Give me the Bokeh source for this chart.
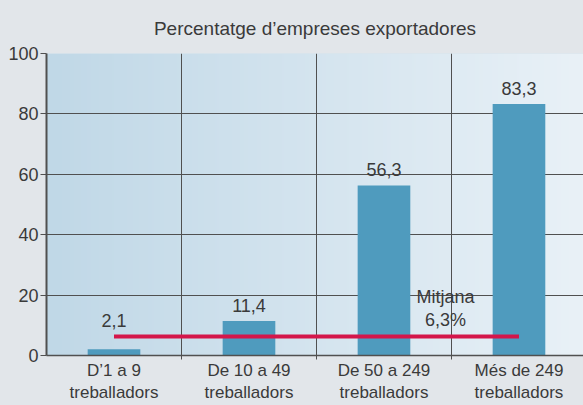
import numpy as np
from bokeh.plotting import figure
from bokeh.models import FixedTicker, Range1d, GlobalInlineStyleSheet
from bokeh.core.properties import value
from bokeh.embed import file_html
from bokeh.resources import INLINE

# ---- data ----
title_text = "Percentatge d’empreses exportadores"
categories = ["D’1 a 9\ntreballadors", "De 10 a 49\ntreballadors",
              "De 50 a 249\ntreballadors", "Més de 249\ntreballadors"]
values = [2.1, 11.4, 56.3, 83.3]
value_labels = ["2,1", "11,4", "56,3", "83,3"]
mean_value = 6.3
mean_label = "Mitjana\n6,3%"
y_ticks = [0, 20, 40, 60, 80, 100]

# ---- style ----
FONT = "Liberation Sans"
TXT = "#3a3a3a"
PAGE_BG = "#e2e6ea"
BAR = "#4f9bbe"
RED = "#d4164a"
GRID = "#505050"
X_END = 3.978

x = [i + 0.5 for i in range(len(categories))]
boundaries = [i for i in range(1, len(categories))]

p = figure(width=583, height=405, output_backend="svg", toolbar_location=None,
           x_range=Range1d(0, X_END), y_range=Range1d(0, 100),
           min_border_left=46, min_border_right=0, min_border_top=53,
           min_border_bottom=48)
p.stylesheets = [GlobalInlineStyleSheet(css=f"body {{ background: {PAGE_BG}; }}")]
p.background_fill_color = "#d3e3ee"
p.border_fill_color = PAGE_BG
p.outline_line_color = None

# gradient background of the plotting area
N = 256
img = np.empty((1, N), dtype=np.uint32)
view = img.view(dtype=np.uint8).reshape((1, N, 4))
left_c = np.array([192, 216, 231], dtype=float)
right_c = np.array([233, 241, 247], dtype=float)
t = np.linspace(0, 1, N)
for c in range(3):
    view[0, :, c] = (left_c[c] + (right_c[c] - left_c[c]) * t).astype(np.uint8)
view[0, :, 3] = 255
p.image_rgba(image=[img], x=0, y=0, dw=X_END, dh=100, level="image")

# bars
p.vbar(x=x, top=values, width=0.39, fill_color=BAR, line_color=None)

# mean line
p.segment(x0=[x[0]], x1=[x[-1]], y0=[mean_value], y1=[mean_value],
          line_color=RED, line_width=4)

# value labels
label_y = [max(v, mean_value) for v in values]
p.text(x=x, y=label_y, text=value_labels, text_align="center",
       text_baseline="bottom", y_offset=-9, text_font=value(FONT),
       text_font_size="18px", text_color=TXT)

# mean label
p.text(x=[boundaries[-1]], y=[mean_value], text=[mean_label], x_offset=-6,
       y_offset=-6, text_align="center", text_baseline="bottom",
       text_line_height=1.15, text_font=value(FONT), text_font_size="18px",
       text_color=TXT)

# title
p.title.text = title_text
p.title.align = "center"
p.title.text_font = FONT
p.title.text_font_size = "19px"
p.title.text_font_style = "normal"
p.title.text_color = TXT
p.title.standoff = 29

# y axis
p.yaxis.ticker = FixedTicker(ticks=y_ticks)
p.yaxis.major_tick_out = 6
p.yaxis.major_tick_in = 0
p.yaxis.minor_tick_out = 0
p.yaxis.minor_tick_in = 0
p.yaxis.axis_line_color = GRID
p.yaxis.axis_line_width = 2
p.yaxis.major_tick_line_color = GRID
p.yaxis.major_label_standoff = 2
p.yaxis.major_label_text_font = FONT
p.yaxis.major_label_text_font_size = "18px"
p.yaxis.major_label_text_color = TXT

# x axis
p.xaxis.ticker = FixedTicker(ticks=x, minor_ticks=boundaries)
p.xaxis.major_label_overrides = {xi: c for xi, c in zip(x, categories)}
p.xaxis.major_tick_out = 0
p.xaxis.major_tick_in = 0
p.xaxis.minor_tick_out = 4
p.xaxis.minor_tick_in = 0
p.xaxis.minor_tick_line_color = GRID
p.xaxis.axis_line_color = GRID
p.xaxis.axis_line_width = 1.5
p.xaxis.major_label_standoff = 1
p.xaxis.major_label_text_font = FONT
p.xaxis.major_label_text_font_size = "17px"
p.xaxis.major_label_text_color = TXT

# grids
p.xgrid.ticker = FixedTicker(ticks=boundaries)
p.xgrid.grid_line_color = GRID
p.xgrid.grid_line_width = 1
p.ygrid.ticker = FixedTicker(ticks=y_ticks[1:])
p.ygrid.grid_line_color = GRID
p.ygrid.grid_line_width = 1

open("out.html", "w").write(file_html(p, INLINE))
